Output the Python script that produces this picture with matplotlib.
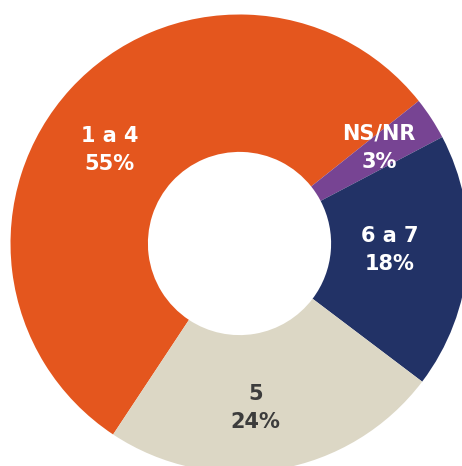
import matplotlib
matplotlib.use("Agg")
import matplotlib.pyplot as plt
import numpy as np

# Donut: share of answers per score group
categories = ["1 a 4", "NS/NR", "6 a 7", "5"]
shares = [55, 3, 18, 24]
colors = ["#E4561E", "#774493", "#223266", "#DCD7C5"]
text_colors = ["white", "white", "white", "#3C3C3C"]

# label placement (radius fraction, angle nudge in degrees)
label_r = [0.70, 0.74, 0.655, 0.72]
label_nudge = [6.6, 1.4, 2.1, -4.2]

fig = plt.figure(figsize=(4.62, 4.66), dpi=100)
ax = fig.add_axes([0, 0, 1, 1])

wedges, _ = ax.pie(shares, colors=colors, startangle=236.5, counterclock=False,
                   radius=1, wedgeprops=dict(width=0.6, linewidth=0))

for w, cat, val, tc, r, nudge in zip(wedges, categories, shares, text_colors,
                                     label_r, label_nudge):
    ang = np.deg2rad((w.theta1 + w.theta2) / 2 + nudge)
    ax.text(r * np.cos(ang), r * np.sin(ang), f"{cat}\n{val}%",
            ha="center", va="center", color=tc, fontsize=15,
            fontweight="bold", family="DejaVu Sans", linespacing=1.5)

ax.set_xlim(-1.0459, 0.9716)
ax.set_ylim(-0.9716, 1.0633)
ax.set_aspect("auto")
ax.axis("off")

fig.savefig("out.png", dpi=100)
